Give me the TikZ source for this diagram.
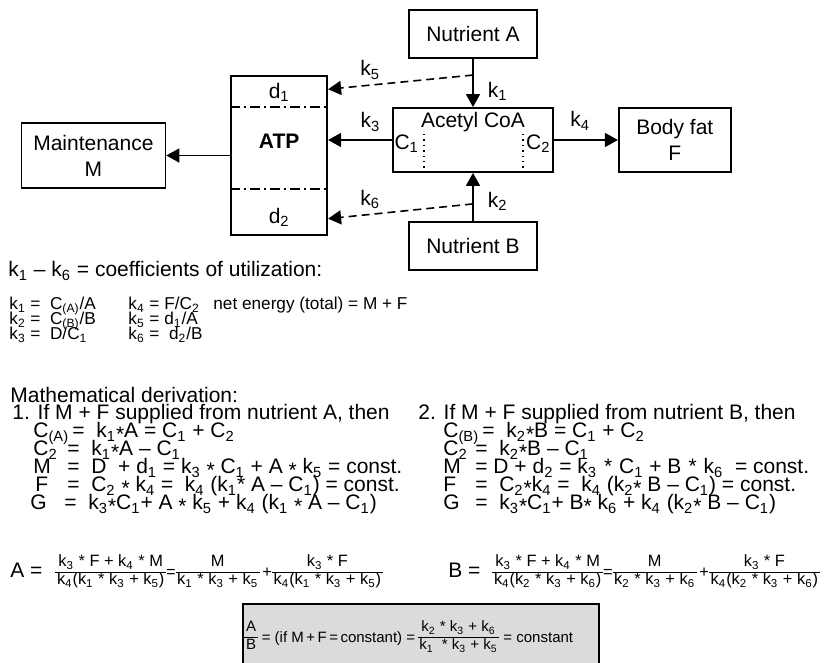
\documentclass[tikz,border=0pt]{standalone}
\usepackage{fontspec}
\setmainfont{Liberation Sans}
\usetikzlibrary{arrows.meta,positioning}

\newcommand{\subx}[1]{\textsubscript{#1}}
\newcommand{\tms}{\raisebox{-0.3ex}{*}}
\newcommand{\fracx}[2]{\lower3.5pt\vbox{\offinterlineskip
  \halign{\hfil\kern0.8pt##\kern0.8pt\hfil\cr
    \rule[-1.8pt]{0pt}{8.1pt}#1\cr
    \noalign{\kern0.5pt\hrule height0.4pt}
    \rule[-1.8pt]{0pt}{8.1pt}#2\cr}}}

\begin{document}
\begin{tikzpicture}[
  x=0.5pt, y=-0.5pt,
  node distance = 24pt and 32pt,
  box/.style     = {draw, line width=0.9pt, inner sep=0pt, align=center,
                    font=\fontsize{10.5}{13}\selectfont},
  arr/.style     = {-{Triangle[length=6.5pt,width=7pt]}, line width=0.8pt},
  dasharr/.style = {arr, dash pattern=on 4pt off 2.5pt},
  divline/.style = {line width=0.8pt, dash pattern=on 5pt off 2pt on 1pt off 2pt},
  dotline/.style = {line width=0.7pt, dotted},
  klab/.style    = {font=\fontsize{10.5}{13}\selectfont, inner sep=1pt},
  txt/.style     = {anchor=base west, inner sep=0pt,
                    font=\fontsize{10.5}{13}\selectfont},
  smalltxt/.style= {txt, font=\fontsize{8.6}{10}\selectfont},
  fractxt/.style = {txt, font=\fontsize{8.2}{10}\selectfont},
  resbox/.style  = {draw, line width=0.9pt, fill=black!14, anchor=north west,
                    minimum width=178pt, minimum height=45pt, inner sep=0pt},
]
\useasboundingbox (0,0) rectangle (832,663);

% scheme
\node[box, minimum width=80pt, minimum height=32pt] (acoa) at (473,140) {};
\node[box, minimum width=64pt, minimum height=24pt, above=of acoa] (nutA) {Nutrient A};
\node[box, minimum width=64pt, minimum height=24pt, below=of acoa] (nutB) {Nutrient B};
\node[box, minimum width=56pt, minimum height=32pt, right=of acoa] (fat) {Body fat\\F};
\node[box, minimum width=48pt, minimum height=79.5pt, left=of acoa, yshift=-7.75pt] (atp) {};
\node[box, minimum width=72pt, minimum height=32.5pt, left=of atp] (maint) {Maintenance\\M};

\draw[divline] ([yshift=-16pt]atp.north west) -- ([yshift=-16pt]atp.north east);
\draw[divline] ([yshift=23.5pt]atp.south west) -- ([yshift=23.5pt]atp.south east);
\node[klab] (d1) at ([yshift=-8.5pt]atp.north) {d\subx{1}};
\node[klab, font=\fontsize{10.5}{13}\selectfont\bfseries] (atplab) at ([yshift=-33pt]atp.north) {ATP};
\node[klab] (d2) at ([yshift=-71pt]atp.north) {d\subx{2}};

\draw[dotline] ([xshift=16pt]acoa.north west) -- ([xshift=16pt]acoa.south west);
\draw[dotline] ([xshift=-15.5pt]acoa.north east) -- ([xshift=-15.5pt]acoa.south east);
\node[klab, fill=white, inner sep=0pt] (acoalab) at ([yshift=-7.5pt]acoa.north) {Acetyl CoA};
\node[klab, inner sep=0pt, anchor=west] (c1) at ([xshift=1pt, yshift=-2pt]acoa.west) {C\subx{1}};
\node[klab, inner sep=0pt, anchor=east] (c2) at ([xshift=-1.5pt, yshift=-2pt]acoa.east) {C\subx{2}};

\path (nutA.south) -- (acoa.north) coordinate[pos=0.333] (brA);
\path (nutB.north) -- (acoa.south) coordinate[pos=0.354] (brB);
\path (atp.north east) -- (atp.south east) coordinate[pos=0.088] (atpA)
      coordinate[pos=0.893] (atpB);

\draw[arr] (nutA) -- node[klab, right=6pt, pos=0.667] {k\subx{1}} (acoa);
\draw[arr] (nutB) -- node[klab, right=6pt, pos=0.4] {k\subx{2}} (acoa);
\draw[arr] (acoa.west) -- node[klab, above=3pt, pos=0.34] {k\subx{3}} (acoa.west -| atp.east);
\draw[arr] (acoa) -- node[klab, above=3.5pt, pos=0.41] {k\subx{4}} (fat);
\draw[dasharr] (brA) -- node[klab, above=1.5pt, pos=0.71] {k\subx{5}} (atpA);
\draw[dasharr] (brB) -- node[klab, above=1.5pt, pos=0.71] {k\subx{6}} (atpB);
\draw[arr] (atp) -- (maint);

% coefficients
\node[txt] (kinfo) at (8,277) {k\subx{1} – k\subx{6} = coefficients of utilization:};
\node[smalltxt] (kdef1) at (9,310)
     {\makebox[59.5pt][l]{k\subx{1} =\ \ C\subx{(A)}/A}\makebox[42.5pt][l]{k\subx{4} = F/C\subx{2}}net energy (total) = M + F};
\node[smalltxt] (kdef2) at (9,325)
     {\makebox[59.5pt][l]{k\subx{2} =\ \ C\subx{(B)}/B}k\subx{5} = d\subx{1}/A};
\node[smalltxt] (kdef3) at (9,340)
     {\makebox[59.5pt][l]{k\subx{3} =\ \ D/C\subx{1}}k\subx{6} =\ \ d\subx{2}/B};

% derivation
\node[txt] (mderiv) at (10,403) {Mathematical derivation:};
\node[txt] (caseA) at (12,420) {1. If M + F supplied from nutrient A, then};
\node[txt] (eqA1) at (33,438) {\makebox[19.5pt][l]{C\subx{(A)}}=\ \ k\subx{1}\tms A = C\subx{1} + C\subx{2}};
\node[txt] (eqA2) at (33,456) {\makebox[17pt][l]{C\subx{2}}=\ \ k\subx{1}\tms A – C\subx{1}};
\node[txt] (eqA3) at (33,474) {\makebox[17pt][l]{M}=\ \ D\ \ + d\subx{1} = k\subx{3} \tms{} C\subx{1} + A \tms{} k\subx{5} = const.};
\node[txt] (eqA4) at (35,492) {\makebox[16pt][l]{F}=\ \ C\subx{2} \tms{} k\subx{4} =\ \ k\subx{4} (k\subx{1}* A – C\subx{1}) = const.};
\node[txt] (eqA5) at (30,510) {\makebox[17pt][l]{G}=\ \ k\subx{3}\tms C\subx{1}+ A \tms{} k\subx{5} + k\subx{4} (k\subx{1} \tms{} A – C\subx{1})};
\node[txt] (sumA) at (10,578) {A =\ \ };
\node[fractxt] (fracA) at (55,578)
     {\fracx{k\subx{3} * F + k\subx{4} * M}{k\subx{4}(k\subx{1} * k\subx{3} + k\subx{5})}=%
      \fracx{M}{k\subx{1} * k\subx{3} + k\subx{5}}\,+%
      \fracx{k\subx{3} * F}{k\subx{4}(k\subx{1} * k\subx{3} + k\subx{5})}};

\node[txt] (caseB) at (418,420) {2. If M + F supplied from nutrient B, then};
\node[txt] (eqB1) at (443,438) {\makebox[19.5pt][l]{C\subx{(B)}}=\ \ k\subx{2}\tms B = C\subx{1} + C\subx{2}};
\node[txt] (eqB2) at (443,456) {\makebox[16pt][l]{C\subx{2}}=\ \ k\subx{2}\tms B – C\subx{1}};
\node[txt] (eqB3) at (443,474) {\makebox[16pt][l]{M}= D + d\subx{2} = k\subx{3}\,\,*\,\,C\subx{1} + B\,\,*\,\,k\subx{6}\ \ = const.};
\node[txt] (eqB4) at (443,492) {\makebox[16pt][l]{F}=\ \ C\subx{2}\tms k\subx{4} =\ \ k\subx{4} (k\subx{2}\tms{} B – C\subx{1}) = const.};
\node[txt] (eqB5) at (443,510) {\makebox[16pt][l]{G}=\ \ k\subx{3}\tms C\subx{1}+ B\tms{} k\subx{6} + k\subx{4} (k\subx{2}\tms{} B – C\subx{1})};
\node[txt] (sumB) at (448,578) {B =};
\node[fractxt] (fracB) at (492,578)
     {\fracx{k\subx{3} * F + k\subx{4} * M}{k\subx{4}(k\subx{2} * k\subx{3} + k\subx{6})}=%
      \fracx{M}{k\subx{2} * k\subx{3} + k\subx{6}}\,+%
      \fracx{k\subx{3} * F}{k\subx{4}(k\subx{2} * k\subx{3} + k\subx{6})}};

% result
\node[resbox] (ratio) at (242,603) {};
\node[txt, font=\fontsize{7.5}{9}\selectfont] (ratiotxt) at (244,643)
     {\fracx{A}{B} = (if M\,+\,F\,=\,constant) =\,\fracx{k\subx{2} * k\subx{3} + k\subx{6}}{k\subx{1}\ \ * k\subx{3} + k\subx{5}} = constant};
\end{tikzpicture}
\end{document}
